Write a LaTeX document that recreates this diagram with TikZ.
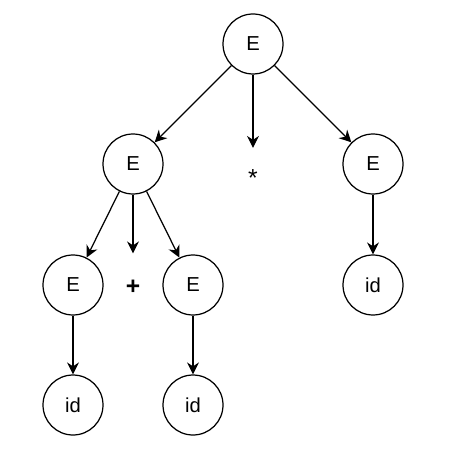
\documentclass[tikz,border=0pt]{standalone}
\usepackage{fontspec}
\setmainfont{Liberation Sans}
\usetikzlibrary{arrows.meta}

\begin{document}
\begin{tikzpicture}[x=0.02cm,y=-0.02cm,line width=0.7pt,
		every node/.style={font=\fontsize{11.5pt}{14pt}\selectfont},
		sym/.style={circle,draw,minimum size=1.2cm,inner sep=0pt},
		tok/.style={inner sep=0pt,minimum height=#1,font=\fontsize{14pt}{16pt}\selectfont},
		->/.style={-{Stealth[length=6.8pt,width=6.8pt]}}]
		\useasboundingbox (0,0) rectangle (469,462);
		\node[sym] (e0) at (253,44) {E};
		\node[sym] (e1) at (133,164) {E};
		\node[tok=1.18cm] (mul) at (253,178) {*};
		\node[sym] (e2) at (373,164) {E};
		\node[sym] (e3) at (73,285) {E};
		\node[tok=1.32cm] (add) at (133,287) {\bfseries +};
		\node[sym] (e4) at (193,285) {E};
		\node[sym] (id3) at (373,285) {id};
		\node[sym] (id1) at (73,405) {id};
		\node[sym] (id2) at (193,405) {id};
		\draw[->] (e0) -- (e1);
		\draw[->] (e0) -- (mul);
		\draw[->] (e0) -- (e2);
		\draw[->] (e1) -- (e3);
		\draw[->] (e1) -- (add);
		\draw[->] (e1) -- (e4);
		\draw[->] (e2) -- (id3);
		\draw[->] (e3) -- (id1);
		\draw[->] (e4) -- (id2);
	\end{tikzpicture}
\end{document}
